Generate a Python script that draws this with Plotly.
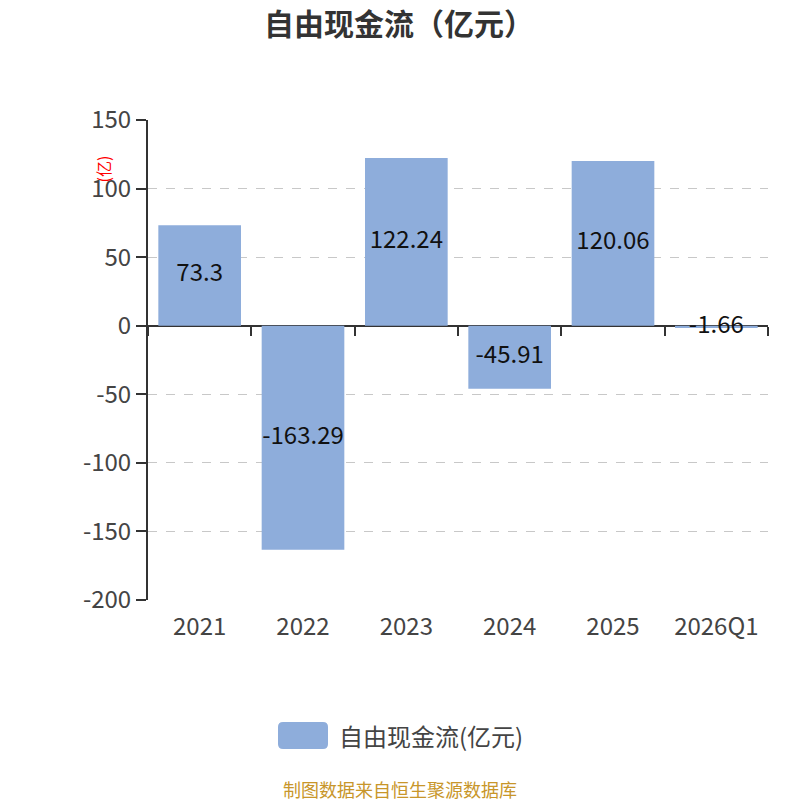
import plotly.graph_objects as go

# data
periods = ["2021", "2022", "2023", "2024", "2025", "2026Q1"]
fcf = [73.3, -163.29, 122.24, -45.91, 120.06, -1.66]
labels = ["73.3", "-163.29", "122.24", "-45.91", "120.06", "-1.66"]
y_ticks = [150, 100, 50, 0, -50, -100, -150, -200]
series_name = "自由现金流(亿元)"

BAR_COLOR = "#8eaddb"
FONT = "Noto Sans CJK SC"

# the page body adds an 8px margin, so work in screen pixels and shift
OFF = 8
W = H = 800
L, R, T, B = 148 - OFF, W + OFF - 768, 120 - OFF, H + OFF - 600
PW, PH = W - L - R, H - T - B


def px(xs):
    """screen x pixel -> paper x"""
    return (xs - OFF - L) / PW


def py(ys):
    """screen y pixel -> paper y"""
    return (H - B - (ys - OFF)) / PH


fig = go.Figure()
fig.add_trace(
    go.Bar(
        x=periods,
        y=fcf,
        name=series_name,
        marker_color=BAR_COLOR,
        marker_line_width=0,
        hoverinfo="skip",
        showlegend=False,
    )
)
# invisible trace to carry the zero-line axis
fig.add_trace(
    go.Scatter(x=[0], y=[0], xaxis="x2", mode="markers", marker_opacity=0,
               showlegend=False, hoverinfo="skip")
)
# value labels at the middle of each bar
fig.add_trace(
    go.Scatter(
        x=periods,
        y=[v / 2 for v in fcf],
        text=labels,
        mode="text",
        textfont=dict(size=24, color="#111", family=FONT),
        showlegend=False,
        hoverinfo="skip",
    )
)

zero_pos = (0 - y_ticks[-1]) / (y_ticks[0] - y_ticks[-1])

fig.update_layout(
    width=W,
    height=H,
    paper_bgcolor="white",
    plot_bgcolor="white",
    font=dict(family=FONT, color="#333"),
    margin=dict(l=L, r=R, t=T, b=B, autoexpand=False),
    bargap=0.2,
    showlegend=False,
    title=dict(
        text="<b>自由现金流（亿元）</b>",
        x=(399 - OFF) / W,
        xanchor="center",
        y=1 - (24 - OFF) / H,
        yanchor="middle",
        font=dict(size=30, color="#333", family=FONT),
    ),
    xaxis=dict(
        type="category",
        showline=False,
        ticks="",
        showgrid=False,
        automargin=False,
        ticklabelstandoff=10,
        tickfont=dict(size=24, color="#444"),
        range=[-0.5, 5.5],
    ),
    xaxis2=dict(
        overlaying="x",
        anchor="free",
        position=zero_pos,
        range=[-0.5, 5.5],
        tickvals=[i - 0.5 for i in range(len(periods) + 1)],
        showticklabels=False,
        ticks="outside",
        ticklen=9,
        tickwidth=2,
        tickcolor="#333",
        showline=True,
        linecolor="#333",
        linewidth=2,
        showgrid=False,
        zeroline=False,
        layer="below traces",
        automargin=False,
    ),
    yaxis=dict(
        range=[y_ticks[-1], y_ticks[0]],
        tickvals=y_ticks,
        ticktext=[str(v) for v in y_ticks],
        ticks="outside",
        ticklen=10,
        tickwidth=2,
        tickcolor="#333",
        showline=True,
        linecolor="#333",
        linewidth=2,
        showgrid=True,
        gridcolor="#c8c8c8",
        griddash="dash",
        gridwidth=1,
        zeroline=False,
        automargin=False,
        tickfont=dict(size=24, color="#444"),
    ),
)

# custom legend: rounded swatch + label
x0, x1, y0, y1 = px(278), px(328), py(749), py(722)
rx, ry = 5 / PW, 5 / PH
fig.add_shape(
    type="path",
    xref="paper",
    yref="paper",
    path=(
        f"M {x0 + rx} {y0} L {x1 - rx} {y0} Q {x1} {y0} {x1} {y0 + ry} "
        f"L {x1} {y1 - ry} Q {x1} {y1} {x1 - rx} {y1} "
        f"L {x0 + rx} {y1} Q {x0} {y1} {x0} {y1 - ry} "
        f"L {x0} {y0 + ry} Q {x0} {y0} {x0 + rx} {y0} Z"
    ),
    fillcolor=BAR_COLOR,
    line_width=0,
)
fig.add_annotation(
    text=series_name,
    xref="paper",
    yref="paper",
    x=px(337),
    y=py(735),
    xanchor="left",
    yanchor="middle",
    showarrow=False,
    font=dict(size=24, color="#444", family=FONT),
)
fig.add_annotation(
    text="(亿)",
    xref="paper",
    yref="paper",
    x=px(88),
    y=py(154),
    showarrow=False,
    textangle=-90,
    font=dict(size=16, color="red", family=FONT),
)
fig.add_annotation(
    text="制图数据来自恒生聚源数据库",
    xref="paper",
    yref="paper",
    x=px(400),
    y=py(789),
    xanchor="center",
    yanchor="middle",
    showarrow=False,
    font=dict(size=18, color="#c8962a", family=FONT),
)

fig.write_html("out.html")
